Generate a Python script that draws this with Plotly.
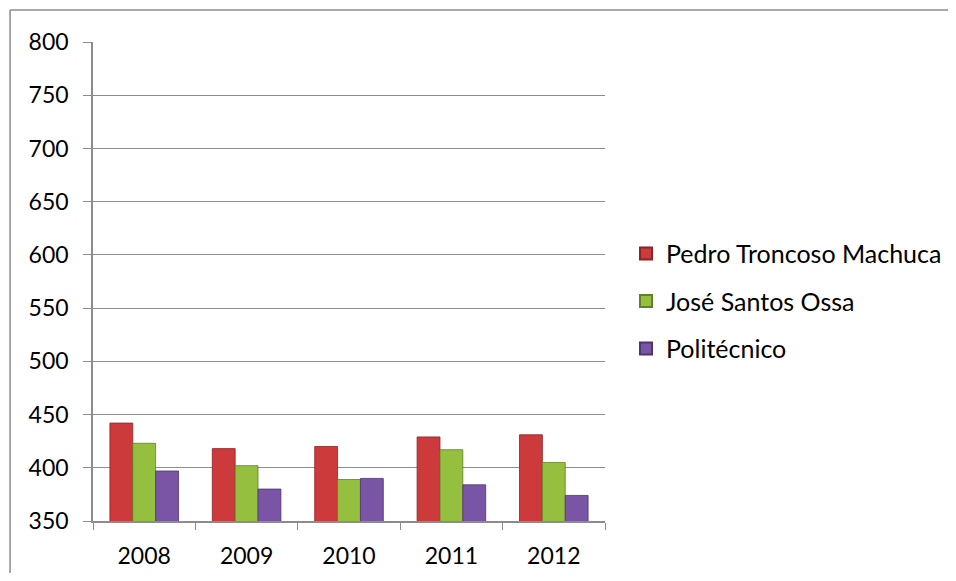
import plotly.graph_objects as go

years = ["2008", "2009", "2010", "2011", "2012"]
series_names = ["Pedro Troncoso Machuca", "José Santos Ossa", "Politécnico"]
pedro = [442, 418, 420, 429, 431]
jose = [423, 402, 389, 417, 405]
poli = [397, 380, 390, 384, 374]
y_ticks = [350, 400, 450, 500, 550, 600, 650, 700, 750, 800]

colors = ["#CC3A3C", "#94BF3F", "#7A55A5"]
edge = ["#8E2224", "#5F8225", "#4E3470"]

fig = go.Figure()
for i, (name, vals, c, e) in enumerate(zip(series_names, [pedro, jose, poli], colors, edge)):
    fig.add_trace(go.Bar(
        x=years, y=vals, name=name, legendgroup=f"g{i}",
        marker=dict(color=c, line=dict(color=e, width=0.8)),
    ))

border = dict(color="#8C8C8C", width=1.5)
fig.update_layout(
    width=940, height=565,
    margin=dict(l=85, r=343, t=34, b=52, autoexpand=False),
    paper_bgcolor="white", plot_bgcolor="white",
    barmode="group", bargap=0.33, bargroupgap=0,
    font=dict(family="Lato, Carlito, Calibri, sans-serif", size=23, color="black"),
    showlegend=True,
    legend=dict(x=1.041, y=0.459, xanchor="left", yanchor="middle",
                font=dict(size=25), itemsizing="constant", traceorder="grouped",
                tracegroupgap=12, bgcolor="rgba(0,0,0,0)"),
    shapes=[
        dict(type="line", xref="paper", yref="paper", x0=-0.162, x1=-0.162,
             y0=-0.2, y1=1.0668, line=border, layer="below"),
        dict(type="line", xref="paper", yref="paper", x0=-0.162, x1=1.75,
             y0=1.0668, y1=1.0668, line=border, layer="below"),
    ],
)
fig.update_xaxes(
    showline=True, linecolor="#8C8C8C", linewidth=1.5,
    ticks="outside", tickson="boundaries", ticklen=7, tickcolor="#8C8C8C",
    ticklabelstandoff=14, showgrid=False,
)
fig.update_yaxes(
    range=[350, 800], tickvals=y_ticks, ticktext=[str(v) for v in y_ticks],
    showline=True, linecolor="#8C8C8C", linewidth=1.5,
    ticks="outside", ticklen=8, tickcolor="#8C8C8C",
    showgrid=True, gridcolor="#8C8C8C", gridwidth=1.2,
    ticklabelstandoff=10, zeroline=False,
)

fig.write_html("out.html")
